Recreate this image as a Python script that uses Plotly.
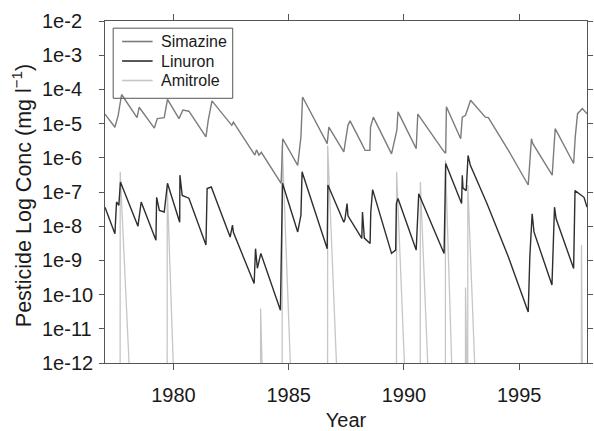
import math
import plotly.graph_objects as go

# Simulated pesticide concentrations in groundwater (mg/l), vertices of each series
sim_year = [1977.03, 1977.46, 1977.60, 1977.75, 1978.42, 1978.51, 1979.17, 1979.30, 1979.60,
            1979.74, 1980.24, 1980.41, 1980.67, 1981.41, 1981.51, 1981.67, 1982.53, 1982.60,
            1983.53, 1983.60, 1983.71, 1983.81, 1984.67, 1984.74, 1985.39, 1985.53, 1985.60,
            1986.67, 1986.74, 1987.39, 1987.57, 1987.66, 1988.17, 1988.31, 1988.52, 1988.55,
            1988.67, 1989.46, 1989.69, 1989.74, 1990.53, 1990.60, 1991.74, 1991.81, 1991.84,
            1992.46, 1992.53, 1992.67, 1992.89, 1993.53, 1993.66, 1994.53, 1995.39, 1995.53,
            1995.59, 1995.81, 1996.43, 1996.56, 1997.36, 1997.43, 1997.53, 1997.74, 1997.94]
sim_conc = [1.9e-5, 7.8e-6, 1.7e-5, 7.1e-5, 1.5e-5, 3.0e-5, 7.4e-6, 1.4e-5, 1.5e-5,
            5.1e-5, 1.4e-5, 2.5e-5, 2.3e-5, 4.1e-6, 1.26e-5, 4.6e-5, 8.9e-6, 1.1e-5,
            1.2e-6, 1.7e-6, 1.2e-6, 1.45e-6, 1.8e-7, 3.6e-6, 6.0e-7, 4.1e-6, 6.0e-5,
            2.6e-6, 7.9e-6, 1.5e-6, 8.9e-6, 1.2e-5, 2.6e-6, 1.65e-6, 1.65e-6, 7.9e-6,
            1.55e-5, 1.3e-6, 6.3e-6, 2.2e-5, 1.85e-6, 1.9e-5, 1.5e-6, 1.35e-6, 3.1e-5,
            3.6e-6, 1.55e-5, 1.75e-5, 4.8e-5, 1.55e-5, 1.5e-5, 1.65e-6, 1.6e-7, 3.6e-6,
            2.6e-6, 1.5e-6, 3.1e-7, 7.1e-6, 6.8e-7, 4.1e-6, 1.95e-5, 2.75e-5, 1.95e-5]

lin_year = [1977.03, 1977.46, 1977.53, 1977.63, 1977.70, 1978.46, 1978.60, 1979.24, 1979.27,
            1979.39, 1979.60, 1979.74, 1980.27, 1980.28, 1980.38, 1980.67, 1981.41, 1981.46,
            1981.64, 1982.46, 1982.56, 1982.60, 1983.50, 1983.56, 1983.64, 1983.79, 1984.64,
            1984.67, 1984.73, 1985.39, 1985.53, 1985.58, 1985.62, 1986.67, 1986.70, 1987.39,
            1987.44, 1987.53, 1987.57, 1988.17, 1988.20, 1988.28, 1988.53, 1988.56, 1988.64,
            1989.46, 1989.64, 1989.67, 1989.74, 1990.53, 1990.60, 1990.64, 1991.74, 1991.81,
            1992.50, 1992.53, 1992.56, 1992.70, 1992.78, 1992.88, 1993.60, 1994.53, 1995.39,
            1995.46, 1995.56, 1995.64, 1996.42, 1996.53, 1996.60, 1997.36, 1997.42, 1997.60,
            1997.81, 1997.94]
lin_conc = [3.6e-8, 6.0e-9, 5.1e-8, 4.1e-8, 1.95e-7, 1.0e-8, 5.1e-8, 3.9e-9, 7.0e-8,
            2.9e-8, 2.6e-8, 1.8e-7, 1.3e-8, 3.1e-7, 7.9e-8, 6.6e-8, 2.8e-9, 1.26e-7,
            1.4e-7, 4.8e-9, 1.07e-8, 6.6e-9, 2.1e-10, 2.2e-9, 5.9e-10, 1.6e-9, 3.5e-11,
            7.2e-10, 1.8e-7, 6.8e-9, 2.1e-8, 3.9e-7, 3.2e-7, 2.2e-9, 1.6e-7, 1.3e-8,
            1.6e-8, 4.6e-8, 2.0e-8, 4.4e-9, 2.6e-8, 4.5e-9, 3.1e-9, 2.6e-8, 1.17e-7,
            1.6e-9, 2.0e-9, 4.6e-8, 6.5e-8, 2.0e-9, 3.2e-8, 8.9e-8, 1.6e-9, 6.8e-7,
            4.6e-8, 3.1e-7, 1.3e-7, 1.1e-7, 1.17e-6, 6.0e-7, 4.6e-8, 1.26e-9, 3.1e-11,
            1.26e-9, 2.3e-8, 6.8e-9, 1.9e-10, 3.6e-8, 1.65e-8, 5.8e-10, 1.1e-7, 9.1e-8,
            7.0e-8, 3.6e-8]

ami_year = [1977.03, 1977.685, 1977.69, 1978.21,
            1979.725, 1979.73, 1980.09,
            1983.775, 1983.78, 1983.92,
            1984.715, 1984.72, 1985.18,
            1986.685, 1986.69, 1987.19,
            1989.675, 1989.68, 1990.14,
            1990.705, 1990.71, 1991.15,
            1991.795, 1991.80, 1992.16,
            1992.665, 1992.67, 1992.74,
            1992.765, 1992.77, 1993.18,
            1997.695, 1997.70, 1997.76, 1997.94]
ami_conc = [1e-14, 1e-14, 3.9e-7, 1e-14,
            1e-14, 1.4e-7, 1e-14,
            1e-14, 3.9e-11, 1e-14,
            1e-14, 2.3e-6, 1e-14,
            1e-14, 2.3e-6, 1e-14,
            1e-14, 3.9e-7, 1e-14,
            1e-14, 1.95e-7, 1e-14,
            1e-14, 8.5e-7, 1e-14,
            1e-14, 1.6e-10, 3e-13,
            1e-14, 1.6e-7, 1e-14,
            1e-14, 2.8e-9, 1e-14, 1e-14]

x_ticks = [1980, 1985, 1990, 1995]
y_ticks = [1e-2, 1e-3, 1e-4, 1e-5, 1e-6, 1e-7, 1e-8, 1e-9, 1e-10, 1e-11, 1e-12]
y_tick_labels = ["1e-2", "1e-3", "1e-4", "1e-5", "1e-6", "1e-7",
                 "1e-8", "1e-9", "1e-10", "1e-11", "1e-12"]

series_names = ["Simazine", "Linuron", "Amitrole"]
series_colors = ["#7c7c7c", "#2e2e2e", "#c6c6c6"]

FONT = "Liberation Sans, Arial, Helvetica, sans-serif"
TEXT_COLOR = "#1a1a1a"
AXIS_COLOR = "#555555"

fig = go.Figure()
fig.add_trace(go.Scatter(x=ami_year, y=ami_conc, mode="lines", name=series_names[2],
                         line=dict(color=series_colors[2], width=1.3)))
fig.add_trace(go.Scatter(x=lin_year, y=lin_conc, mode="lines", name=series_names[1],
                         line=dict(color=series_colors[1], width=1.4)))
fig.add_trace(go.Scatter(x=sim_year, y=sim_conc, mode="lines", name=series_names[0],
                         line=dict(color=series_colors[0], width=1.4)))

# left-aligned decade labels on the y axis
for v, lab in zip(y_ticks, y_tick_labels):
    fig.add_annotation(text=lab, xref="paper", yref="y", x=-0.135, y=math.log10(v),
                       xanchor="left", yanchor="middle", showarrow=False,
                       font=dict(family=FONT, size=20, color=TEXT_COLOR))

fig.add_annotation(text="Pesticide Log Conc (mg l<sup>\u22121</sup>)", xref="paper", yref="paper",
                   x=-0.172, y=0.488, xanchor="center", yanchor="middle", textangle=-90,
                   showarrow=False, font=dict(family=FONT, size=21.5, color=TEXT_COLOR))

# compact boxed key in the upper-left corner
key_box = dict(x0=0.017, x1=0.265, y0=0.774, y1=0.979)
fig.add_shape(type="rect", xref="paper", yref="paper", line=dict(color=AXIS_COLOR, width=1),
              fillcolor="rgba(0,0,0,0)", **key_box)
key_rows = [0.940, 0.883, 0.826]
for name, color, ky in zip(series_names, series_colors, key_rows):
    fig.add_shape(type="line", xref="paper", yref="paper", x0=0.0355, x1=0.0988, y0=ky, y1=ky,
                  line=dict(color=color, width=1.6))
    fig.add_annotation(text=name, xref="paper", yref="paper", x=0.113, y=ky,
                       xanchor="left", yanchor="middle", showarrow=False,
                       font=dict(family=FONT, size=16, color=TEXT_COLOR))

fig.update_layout(
    width=594, height=431,
    margin=dict(l=105, r=1, t=21, b=68),
    paper_bgcolor="white", plot_bgcolor="white",
    font=dict(family=FONT, size=20, color=TEXT_COLOR),
    showlegend=False,
    xaxis=dict(range=[1977.03, 1997.94], tickvals=x_ticks, ticks="outside", ticklen=6,
               tickcolor=AXIS_COLOR, showline=True, linecolor=AXIS_COLOR, linewidth=1,
               mirror="ticks", showgrid=False, zeroline=False, ticklabelstandoff=8,
               tickfont=dict(family=FONT, size=20),
               title=dict(text="Year", font=dict(family=FONT, size=20), standoff=10)),
    yaxis=dict(type="log", range=[-12, -2], tickvals=y_ticks, ticks="outside", ticklen=5,
               tickcolor=AXIS_COLOR, showline=True, linecolor=AXIS_COLOR, linewidth=1,
               mirror="ticks", showgrid=False, zeroline=False, showticklabels=False),
)

fig.write_html("out.html")
